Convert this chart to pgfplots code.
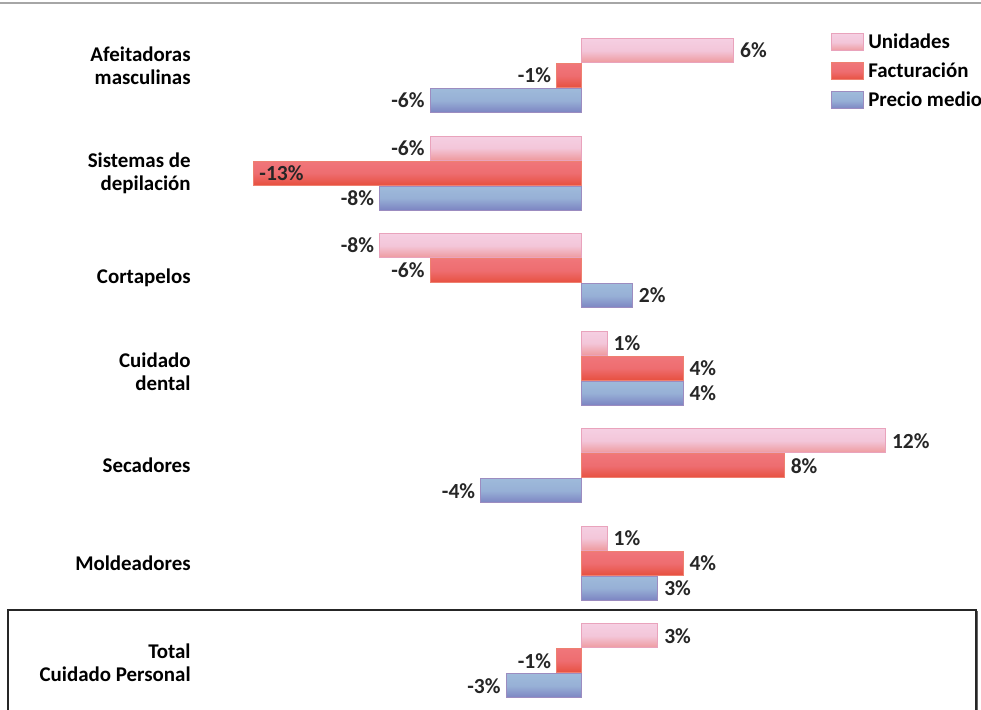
\documentclass[border=0pt]{standalone}
\usepackage{pgfplots}
\pgfplotsset{compat=1.18}
\usepackage{pgfplotstable}
\usepackage{fontspec}
\setmainfont{Carlito}
\definecolor{uTop}{HTML}{F5CFE2}
\definecolor{uMid}{HTML}{F3C6D9}
\definecolor{uBot}{HTML}{EE9A9E}
\definecolor{uBrd}{HTML}{E9A3BC}
\definecolor{fTop}{HTML}{F0767A}
\definecolor{fMid}{HTML}{EE6D70}
\definecolor{fBot}{HTML}{E7503F}
\definecolor{fBrd}{HTML}{EE8070}
\definecolor{pTop}{HTML}{9EBADA}
\definecolor{pMid}{HTML}{97B0D6}
\definecolor{pBot}{HTML}{7C84C2}
\definecolor{pBrd}{HTML}{9C8CC0}
\tikzset{
  uSty/.style={top color=uTop, bottom color=uBot, middle color=uMid, draw=uBrd, line width=0.5bp},
  fSty/.style={top color=fTop, bottom color=fBot, middle color=fMid, draw=fBrd, line width=0.5bp},
  pSty/.style={top color=pTop, bottom color=pBot, middle color=pMid, draw=pBrd, line width=0.5bp},
}
\pgfplotstableread{
pos u f p
0 6 -1 -6
1 -6 -13 -8
2 -8 -6 2
3 1 4 4
4 12 8 -4
5 1 4 3
6 3 -1 -3
}\data
\newcommand{\lf}{\fontsize{10.5}{11.5}\selectfont\bfseries}
\newcommand{\nf}{\fontsize{10.8}{12}\selectfont\bfseries}
\newcommand{\mylab}[1]{%
  \pgfmathparse{and(#1<0,#1>-10)}%
  \ifdim\pgfmathresult pt>0.5pt\llap{#1\%\hspace{2.8bp}}%
  \else\rlap{\hspace{3.2bp}#1\%}\fi}
\begin{document}
\begin{tikzpicture}
\begin{axis}[
  name=ax,
  scale only axis,
  width=490.5bp, height=355bp,
  xmin=-23, xmax=15.77,
  y dir=reverse,
  ymin=-0.774, ymax=6.504,
  axis line style={draw=none},
  major tick length=0pt,
  xtick=\empty,
  ytick={-0.1,1,2.07,3.04,4,5,6.02},
  yticklabels={{Afeitadoras\\masculinas},{Sistemas de\\depilación},{Cortapelos},{Cuidado\\dental},{Secadores},{Moldeadores},{Total\\Cuidado Personal}},
  yticklabel style={font=\lf, align=right, anchor=east, inner sep=0pt, xshift=95.5bp},
  clip=false,
  xbar, bar width=12bp, bar shift=0pt,
  point meta=explicit symbolic,
  nodes near coords={\mylab{\pgfplotspointmeta}},
  every node near coord/.append style={font=\nf, text=black!85, inner sep=0pt, anchor=center},
  legend style={at={(axis description cs:0.847,0.959)}, anchor=north west, draw=none, fill=none, inner sep=0pt, font=\lf, row sep=1.7bp},
  legend cell align=left,
]
\pgfplotsinvokeforeach{0,...,6}{
  \addplot[uSty, forget plot, x filter/.expression={\coordindex==#1 ? x : nan}]
    table[x=u, y expr=\thisrow{pos}-0.2563, meta=u] {\data};
  \addplot[fSty, forget plot, x filter/.expression={\coordindex==#1 ? x : nan}]
    table[x=f, y=pos, meta=f] {\data};
  \addplot[pSty, forget plot, x filter/.expression={\coordindex==#1 ? x : nan}]
    table[x=p, y expr=\thisrow{pos}+0.2563, meta=p] {\data};
}
\addlegendimage{legend image code/.code={\path[uSty] (0bp,-4.25bp) rectangle (16bp,4.25bp);}}
\addlegendentry{Unidades}
\addlegendimage{legend image code/.code={\path[fSty] (0bp,-4.25bp) rectangle (16bp,4.25bp);}}
\addlegendentry{Facturación}
\addlegendimage{legend image code/.code={\path[pSty] (0bp,-4.25bp) rectangle (16bp,4.25bp);}}
\addlegendentry{Precio medio}
\end{axis}
\draw[black!35, line width=0.8bp] ([yshift=-1.5bp]ax.north west) -- ([yshift=-1.5bp]ax.north east);
\draw[black!85, line width=0.6bp] ([xshift=4bp]ax.south west) -- ([xshift=4bp,yshift=50bp]ax.south west) -- ([xshift=-2.5bp,yshift=50bp]ax.south east) -- ([xshift=-2.5bp]ax.south east);
\draw[black!60, line width=0.8bp] ([xshift=-1.8bp,yshift=49.5bp]ax.south east) -- ([xshift=-1.8bp]ax.south east);
\pgfresetboundingbox
\path (ax.south west) rectangle (ax.north east);
\end{tikzpicture}
\end{document}
